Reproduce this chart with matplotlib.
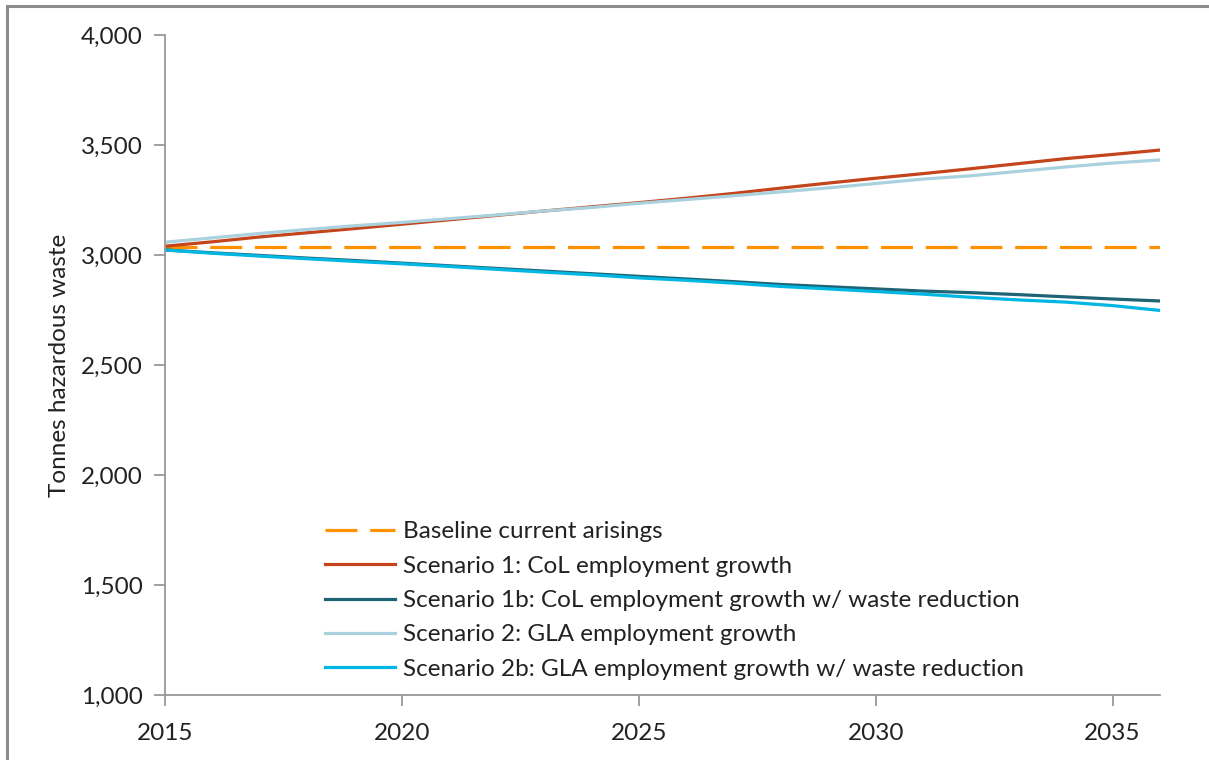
#!/usr/bin/env python3
# Hazardous waste arisings projections, 2015-2036

import matplotlib
matplotlib.use('Agg')
import matplotlib.pyplot as plt
from matplotlib.patches import Rectangle
from matplotlib.ticker import FuncFormatter

years = list(range(2015, 2037))

baseline = [3035] * 22
scenario_1 = [3040, 3060, 3082, 3101, 3120, 3140, 3160, 3180, 3200, 3219, 3238, 3258,
              3280, 3304, 3327, 3349, 3370, 3392, 3415, 3438, 3457, 3477]
scenario_1b = [3023, 3010, 2998, 2986, 2975, 2963, 2951, 2939, 2927, 2915, 2903, 2891,
               2879, 2866, 2856, 2846, 2836, 2829, 2820, 2810, 2800, 2791]
scenario_2 = [3058, 3078, 3098, 3116, 3133, 3148, 3165, 3182, 3200, 3216, 3235, 3252,
              3269, 3287, 3305, 3325, 3345, 3360, 3380, 3400, 3418, 3432]
scenario_2b = [3023, 3008, 2995, 2983, 2971, 2960, 2948, 2935, 2922, 2910, 2896, 2885,
               2872, 2857, 2846, 2834, 2822, 2808, 2796, 2786, 2770, 2748]

labels = ['Baseline current arisings',
          'Scenario 1: CoL employment growth',
          'Scenario 1b: CoL employment growth w/ waste reduction',
          'Scenario 2: GLA employment growth',
          'Scenario 2b: GLA employment growth w/ waste reduction']

plt.rcParams['font.family'] = ['Lato', 'DejaVu Sans']
TXT = '#222222'
AX = '#999999'
FS = 17.5

fig = plt.figure(figsize=(12.09, 7.60), dpi=100)
ax = fig.add_axes([165 / 1209, 65 / 760, 995 / 1209, 660 / 760])

# chart border (only top/left fall inside the picture)
fig.patches.append(Rectangle((7 / 1209, -0.1), 1.2, (760 - 6) / 760 + 0.1,
                             transform=fig.transFigure, fill=False,
                             edgecolor='#8c8c8c', linewidth=2.2))

lw = 2.3
ax.plot(years, baseline, color='#FF9000', lw=lw, dashes=(10, 4), label=labels[0])
ax.plot(years, scenario_1, color='#C4441C', lw=lw, label=labels[1])
ax.plot(years, scenario_1b, color='#1E6475', lw=lw, label=labels[2])
ax.plot(years, scenario_2, color='#A9D1DE', lw=lw, label=labels[3])
ax.plot(years, scenario_2b, color='#00B6E2', lw=lw, label=labels[4])

ax.set_xlim(2015, 2036)
ax.set_ylim(1000, 4000)
ax.set_xticks([2015, 2020, 2025, 2030, 2035])
ax.set_yticks(range(1000, 4001, 500))
ax.yaxis.set_major_formatter(FuncFormatter(lambda v, p: '{:,.0f}'.format(v)))

for s in ['top', 'right']:
    ax.spines[s].set_visible(False)
for s in ['left', 'bottom']:
    ax.spines[s].set_color(AX)
    ax.spines[s].set_linewidth(1.3)
ax.tick_params(axis='both', direction='out', length=8, width=1.3, color=AX,
               labelsize=FS, labelcolor=TXT)
ax.tick_params(axis='y', pad=8)
ax.tick_params(axis='x', pad=12)

ax.set_ylabel('Tonnes hazardous waste', fontsize=FS, color=TXT, labelpad=8)

leg = ax.legend(loc='upper left', bbox_to_anchor=(0.151, 0.278), frameon=False,
                fontsize=FS, handlelength=2.9, handletextpad=0.3,
                labelspacing=0.55, borderaxespad=0)
for t in leg.get_texts():
    t.set_color(TXT)

fig.savefig('out.png', dpi=100)
